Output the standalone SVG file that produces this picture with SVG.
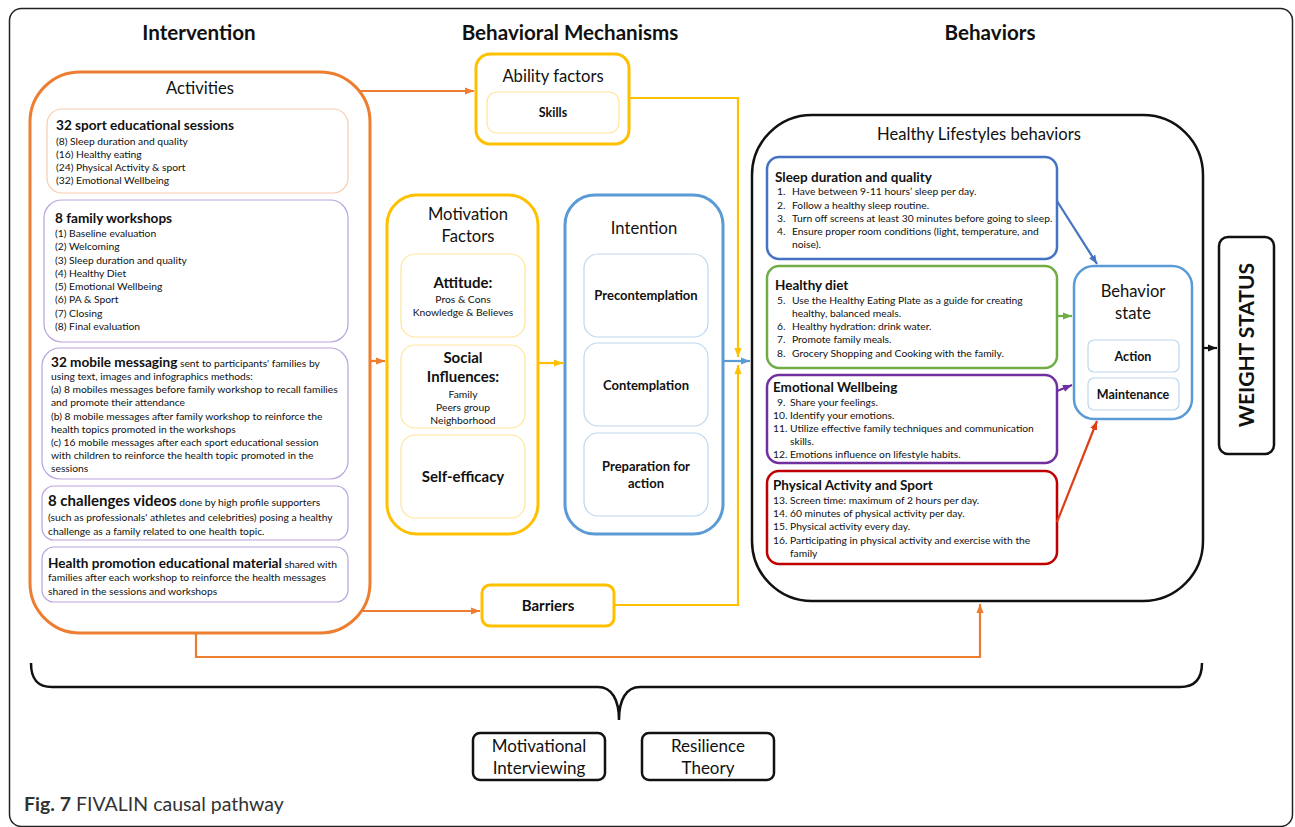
<svg xmlns="http://www.w3.org/2000/svg" width="1295" height="827" viewBox="0 0 1295 827">
<style>
text{font-family:Lato,"Liberation Sans",sans-serif;fill:#111}
.hd{font-size:20.6px;font-weight:bold;text-anchor:middle}
.t16{font-size:16.6px;text-anchor:middle}
.b{font-weight:bold}
.s{font-size:10.3px}
.tl{font-size:13.6px;font-weight:bold}
.c13{font-size:13px;font-weight:bold;text-anchor:middle}
.c15{font-size:15px;font-weight:bold;text-anchor:middle}
.c10{font-size:10.3px;text-anchor:middle}
.or{fill:#fff;stroke:#ED7D31;stroke-width:3}
.ye{fill:#fff;stroke:#FFC000;stroke-width:3}
.bl{fill:#fff;stroke:#5B9BD5;stroke-width:3}
.bk{fill:#fff;stroke:#111;stroke-width:2.5}
.iy{fill:#fff;stroke:#FFE699;stroke-width:1.2}
.ib{fill:#fff;stroke:#BDD7EE;stroke-width:1.2}
.io{fill:#fff;stroke:#F8CBAD;stroke-width:1.2}
.ip{fill:#fff;stroke:#B9A3DF;stroke-width:1.2}
.cn{fill:none;stroke-width:2.2}
</style>
<defs>
<marker id="aO" viewBox="0 0 10 10" refX="10" refY="5" markerWidth="9" markerHeight="9" markerUnits="userSpaceOnUse" orient="auto"><path d="M0,1 L10,5 L0,9 z" fill="#ED7D31"/></marker>
<marker id="aY" viewBox="0 0 10 10" refX="10" refY="5" markerWidth="9" markerHeight="9" markerUnits="userSpaceOnUse" orient="auto"><path d="M0,1 L10,5 L0,9 z" fill="#FFC000"/></marker>
<marker id="aB" viewBox="0 0 10 10" refX="10" refY="5" markerWidth="9" markerHeight="9" markerUnits="userSpaceOnUse" orient="auto"><path d="M0,1 L10,5 L0,9 z" fill="#5B9BD5"/></marker>
<marker id="aS" viewBox="0 0 10 10" refX="10" refY="5" markerWidth="9" markerHeight="9" markerUnits="userSpaceOnUse" orient="auto"><path d="M0,1 L10,5 L0,9 z" fill="#4472C4"/></marker>
<marker id="aG" viewBox="0 0 10 10" refX="10" refY="5" markerWidth="9" markerHeight="9" markerUnits="userSpaceOnUse" orient="auto"><path d="M0,1 L10,5 L0,9 z" fill="#70AD47"/></marker>
<marker id="aP" viewBox="0 0 10 10" refX="10" refY="5" markerWidth="9" markerHeight="9" markerUnits="userSpaceOnUse" orient="auto"><path d="M0,1 L10,5 L0,9 z" fill="#7030A0"/></marker>
<marker id="aR" viewBox="0 0 10 10" refX="10" refY="5" markerWidth="9" markerHeight="9" markerUnits="userSpaceOnUse" orient="auto"><path d="M0,1 L10,5 L0,9 z" fill="#DD3F17"/></marker>
<marker id="aK" viewBox="0 0 10 10" refX="10" refY="5" markerWidth="9" markerHeight="9" markerUnits="userSpaceOnUse" orient="auto"><path d="M0,1 L10,5 L0,9 z" fill="#111"/></marker>
</defs>
<rect x="0" y="0" width="1295" height="827" fill="#fff"/>
<rect x="9.5" y="8.5" width="1283" height="818" rx="12" fill="none" stroke="#222" stroke-width="1.5"/>

<text class="hd" x="199" y="40">Intervention</text>
<text class="hd" x="570" y="40">Behavioral Mechanisms</text>
<text class="hd" x="990" y="40">Behaviors</text>

<g id="activities">
<rect class="or" x="30" y="72" width="340" height="561" rx="50"/>
<text class="t16" x="200" y="94">Activities</text>
</g>
<g id="sport-sessions">
<rect class="io" x="47" y="109" width="301" height="84" rx="15"/>
<text class="tl" x="56" y="130">32 sport educational sessions</text>
<text class="s" x="56" y="145">(8) Sleep duration and quality</text>
<text class="s" x="56" y="158">(16) Healthy eating</text>
<text class="s" x="56" y="171">(24) Physical Activity &amp; sport</text>
<text class="s" x="56" y="184">(32) Emotional Wellbeing</text>
</g>
<g id="family-workshops">
<rect class="ip" x="44" y="200" width="304" height="142" rx="18"/>
<text class="tl" x="55" y="223">8 family workshops</text>
<text class="s" x="55" y="237">(1) Baseline evaluation</text>
<text class="s" x="55" y="250">(2) Welcoming</text>
<text class="s" x="55" y="264">(3) Sleep duration and quality</text>
<text class="s" x="55" y="277">(4) Healthy Diet</text>
<text class="s" x="55" y="290">(5) Emotional Wellbeing</text>
<text class="s" x="55" y="303">(6) PA &amp; Sport</text>
<text class="s" x="55" y="317">(7) Closing</text>
<text class="s" x="55" y="330">(8) Final evaluation</text>
</g>
<g id="mobile-messaging">
<rect class="ip" x="42" y="348" width="306" height="131" rx="18"/>
<text x="51" y="367"><tspan class="tl">32 mobile messaging</tspan><tspan class="s"> sent to participants' families by</tspan></text>
<text class="s" x="51" y="380">using text, images and infographics methods:</text>
<text class="s" x="51" y="393">(a) 8 mobiles messages before family workshop to recall families</text>
<text class="s" x="51" y="406">and promote their attendance</text>
<text class="s" x="51" y="420">(b) 8 mobile messages after family workshop to reinforce the</text>
<text class="s" x="51" y="433">health topics promoted in the workshops</text>
<text class="s" x="51" y="446">(c) 16 mobile messages after each sport educational session</text>
<text class="s" x="51" y="459">with children to reinforce the health topic promoted in the</text>
<text class="s" x="51" y="472">sessions</text>
</g>
<g id="challenges-videos">
<rect class="ip" x="42" y="486" width="306" height="54" rx="12"/>
<text x="48" y="506"><tspan class="tl" style="font-size:15px">8 challenges videos</tspan><tspan class="s"> done by high profile supporters</tspan></text>
<text class="s" x="48" y="521">(such as professionals' athletes and celebrities) posing a healthy</text>
<text class="s" x="48" y="535">challenge as a family related to one health topic.</text>
</g>
<g id="health-material">
<rect class="ip" x="42" y="547" width="306" height="55" rx="12"/>
<text x="48" y="568"><tspan class="tl">Health promotion educational material</tspan><tspan class="s"> shared with</tspan></text>
<text class="s" x="48" y="581">families after each workshop to reinforce the health messages</text>
<text class="s" x="48" y="595">shared in the sessions and workshops</text>
</g>

<g id="ability-factors">
<rect class="ye" x="476" y="54" width="153" height="90" rx="14"/>
<text class="t16" x="553" y="82">Ability factors</text>
<rect class="iy" x="487" y="92" width="132" height="41" rx="10"/>
<text class="c13" x="553" y="117" style="font-size:12.5px">Skills</text>
</g>

<g id="motivation-factors">
<rect class="ye" x="387" y="195" width="151" height="339" rx="30"/>
<text class="t16" x="468" y="220">Motivation</text>
<text class="t16" x="468" y="242">Factors</text>
<rect class="iy" x="401" y="254" width="124" height="83" rx="14"/>
<text class="c15" x="463" y="288">Attitude:</text>
<text class="c10" x="463" y="303">Pros &amp; Cons</text>
<text class="c10" x="463" y="316">Knowledge &amp; Believes</text>
<rect class="iy" x="401" y="345" width="124" height="83" rx="14"/>
<text class="c15" x="463" y="363">Social</text>
<text class="c15" x="463" y="382">Influences:</text>
<text class="c10" x="463" y="398">Family</text>
<text class="c10" x="463" y="411">Peers group</text>
<text class="c10" x="463" y="424">Neighborhood</text>
<rect class="iy" x="401" y="435" width="124" height="83" rx="14"/>
<text class="c15" x="463" y="482">Self-efficacy</text>
</g>

<g id="intention">
<rect class="bl" x="565" y="195" width="158" height="339" rx="30"/>
<text class="t16" x="644" y="234">Intention</text>
<rect class="ib" x="584" y="254" width="124" height="83" rx="14"/>
<text class="c13" x="646" y="300">Precontemplation</text>
<rect class="ib" x="584" y="343" width="124" height="83" rx="14"/>
<text class="c13" x="646" y="390">Contemplation</text>
<rect class="ib" x="584" y="433" width="124" height="83" rx="14"/>
<text class="c13" x="646" y="471">Preparation for</text>
<text class="c13" x="646" y="488">action</text>
</g>

<g id="barriers">
<rect class="ye" x="482" y="585" width="132" height="41" rx="8"/>
<text class="c15" x="548" y="611">Barriers</text>
</g>

<g id="healthy-lifestyles">
<rect class="bk" x="752" y="115" width="451" height="486" rx="60"/>
<text class="t16" x="979" y="140">Healthy Lifestyles behaviors</text>
</g>
<g id="sleep">
<rect x="767" y="157" width="290" height="102" rx="12" fill="#fff" stroke="#4472C4" stroke-width="2.5"/>
<text class="tl" style="font-size:13.5px" x="775" y="182">Sleep duration and quality</text>
<g class="s">
<text x="777" y="195">1.</text><text x="792" y="195">Have between 9-11 hours’ sleep per day.</text>
<text x="777" y="209">2.</text><text x="792" y="209">Follow a healthy sleep routine.</text>
<text x="777" y="222">3.</text><text x="792" y="222">Turn off screens at least 30 minutes before going to sleep.</text>
<text x="777" y="235">4.</text><text x="792" y="235">Ensure proper room conditions (light, temperature, and</text>
<text x="792" y="248">noise).</text>
</g>
</g>
<g id="healthy-diet">
<rect x="767" y="266" width="290" height="102" rx="12" fill="#fff" stroke="#70AD47" stroke-width="2.5"/>
<text class="tl" style="font-size:13.5px" x="775" y="290">Healthy diet</text>
<g class="s">
<text x="777" y="304">5.</text><text x="792" y="304">Use the Healthy Eating Plate as a guide for creating</text>
<text x="792" y="317">healthy, balanced meals.</text>
<text x="777" y="330">6.</text><text x="792" y="330">Healthy hydration: drink water.</text>
<text x="777" y="343">7.</text><text x="792" y="343">Promote family meals.</text>
<text x="777" y="357">8.</text><text x="792" y="357">Grocery Shopping and Cooking with the family.</text>
</g>
</g>
<g id="emotional-wellbeing">
<rect x="767" y="375" width="290" height="88" rx="12" fill="#fff" stroke="#7030A0" stroke-width="2.5"/>
<text class="tl" style="font-size:13.5px" x="773" y="392">Emotional Wellbeing</text>
<g class="s">
<text x="777" y="406">9.</text><text x="790" y="406">Share your feelings.</text>
<text x="773" y="419">10.</text><text x="790" y="419">Identify your emotions.</text>
<text x="773" y="432">11.</text><text x="790" y="432">Utilize effective family techniques and communication</text>
<text x="790" y="445">skills.</text>
<text x="773" y="458">12.</text><text x="790" y="458">Emotions influence on lifestyle habits.</text>
</g>
</g>
<g id="physical-activity">
<rect x="767" y="471" width="290" height="93" rx="12" fill="#fff" stroke="#C00000" stroke-width="2.5"/>
<text class="tl" style="font-size:13.5px" x="773" y="490">Physical Activity and Sport</text>
<g class="s">
<text x="773" y="504">13.</text><text x="790" y="504">Screen time: maximum of 2 hours per day.</text>
<text x="773" y="517">14.</text><text x="790" y="517">60 minutes of physical activity per day.</text>
<text x="773" y="530">15.</text><text x="790" y="530">Physical activity every day.</text>
<text x="773" y="544">16.</text><text x="790" y="544">Participating in physical activity and exercise with the</text>
<text x="790" y="557">family</text>
</g>
</g>
<g id="behavior-state">
<rect x="1074" y="266" width="118" height="153" rx="20" fill="#fff" stroke="#5B9BD5" stroke-width="2.5"/>
<text class="t16" x="1133" y="297">Behavior</text>
<text class="t16" x="1133" y="319">state</text>
<rect class="ib" x="1088" y="340" width="91" height="32" rx="6"/>
<text class="c13" style="font-size:12.5px" x="1133" y="361">Action</text>
<rect class="ib" x="1088" y="378" width="91" height="32" rx="6"/>
<text class="c13" style="font-size:12.5px" x="1133" y="399">Maintenance</text>
</g>
<g id="weight-status">
<rect x="1219" y="237" width="55" height="217" rx="9" fill="#fff" stroke="#111" stroke-width="2.5"/>
<text x="1247" y="345" transform="rotate(-90 1247 345)" style="font-size:21px;font-weight:bold;text-anchor:middle" dy="7">WEIGHT STATUS</text>
</g>

<g id="connectors" class="cn">
<path d="M358,91 H474" stroke="#ED7D31" marker-end="url(#aO)"/>
<path d="M370,361 H385" stroke="#ED7D31" marker-end="url(#aO)"/>
<path d="M360,611 H480" stroke="#ED7D31" marker-end="url(#aO)"/>
<path d="M196,633 V657 H980 V604" stroke="#ED7D31" marker-end="url(#aO)"/>
<path d="M538,363 H563" stroke="#FFC000" marker-end="url(#aY)"/>
<path d="M629,98 H738 V357" stroke="#FFC000" marker-end="url(#aY)"/>
<path d="M614,605 H738 V365" stroke="#FFC000" marker-end="url(#aY)"/>
<path d="M723,361 H750" stroke="#5B9BD5" marker-end="url(#aB)"/>
<path d="M1057,201 L1097,264" stroke="#4472C4" marker-end="url(#aS)"/>
<path d="M1057,316 H1072" stroke="#70AD47" marker-end="url(#aG)"/>
<path d="M1057,391 L1072,385" stroke="#7030A0" marker-end="url(#aP)"/>
<path d="M1057,522 L1097,421" stroke="#DD3F17" marker-end="url(#aR)"/>
<path d="M1202,348 H1217" stroke="#111" marker-end="url(#aK)"/>
</g>

<g id="brace">
<path d="M31,663 C31,680 38,687 52,687 H598 C612,687 619,700 619,720 C619,700 626,687 640,687 H1180 C1194,687 1202,680 1202,663" fill="none" stroke="#111" stroke-width="2.5"/>
</g>
<g id="motivational-interviewing">
<rect x="473" y="733" width="132" height="47" rx="7" fill="#fff" stroke="#111" stroke-width="2.5"/>
<text class="t16" style="font-size:17px" x="539" y="752">Motivational</text>
<text class="t16" style="font-size:17px" x="539" y="774">Interviewing</text>
</g>
<g id="resilience-theory">
<rect x="642" y="733" width="132" height="47" rx="7" fill="#fff" stroke="#111" stroke-width="2.5"/>
<text class="t16" style="font-size:17px" x="708" y="752">Resilience</text>
<text class="t16" style="font-size:17px" x="708" y="774">Theory</text>
</g>
<text x="24" y="811" style="font-size:19.5px;fill:#333"><tspan font-weight="bold">Fig. 7</tspan> FIVALIN causal pathway</text>
</svg>
